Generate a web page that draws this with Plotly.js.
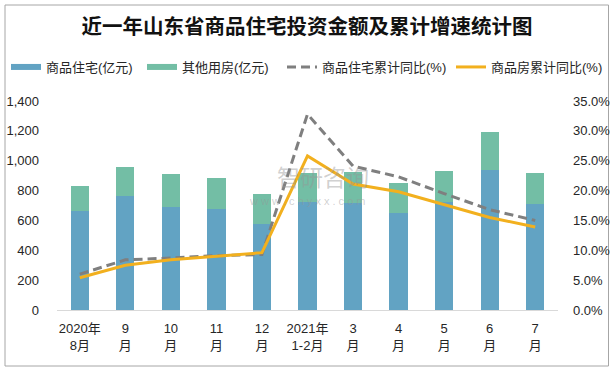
<!DOCTYPE html>
<html>
<head>
<meta charset="utf-8">
<script src="https://cdn.plot.ly/plotly-3.0.1.min.js"></script>
<style>
  html, body { margin: 0; padding: 0; background: #fff; }
  #chart { width: 614px; height: 371px; }
</style>
</head>
<body>
<div id="chart"></div>
<script>
// ---- data ----
const categories = ["2020年<br>8月", "9<br>月", "10<br>月", "11<br>月", "12<br>月", "2021年<br>1-2月", "3<br>月", "4<br>月", "5<br>月", "6<br>月", "7<br>月"];
const residentialInvest = [663, 764, 690, 676, 576, 723, 716, 650, 725, 938, 710];   // 商品住宅(亿元)
const otherInvest       = [167, 194, 221, 208, 201, 192, 209, 201, 206, 254, 208];   // 其他用房(亿元)
const residentialYoY    = [6.0, 8.4, 8.7, 9.1, 9.3, 32.8, 24.1, 22.3, 19.5, 16.8, 15.0]; // 商品住宅累计同比(%)
const allHousingYoY     = [5.4, 7.5, 8.4, 9.0, 9.6, 25.8, 21.1, 19.8, 17.6, 15.5, 13.9]; // 商品房累计同比(%)
const leftTicks  = [0, 200, 400, 600, 800, 1000, 1200, 1400];
const rightTicks = [0, 5, 10, 15, 20, 25, 30, 35];
const rightTickText = ["0.0%", "5.0%", "10.0%", "15.0%", "20.0%", "25.0%", "30.0%", "35.0%"];

const seriesNames = ["商品住宅(亿元)", "其他用房(亿元)", "商品住宅累计同比(%)", "商品房累计同比(%)"];
const colors = { blue: "#62A3C3", green: "#73BEA5", gray: "#7F7F7F", yellow: "#F2B01E" };

const tickFont = { family: "Liberation Sans, Arial, Noto Sans CJK SC, sans-serif", size: 13, color: "#262626" };
const cjkFont  = { family: "Liberation Sans, Noto Sans CJK SC, sans-serif", size: 13, color: "#262626" };

const traces = [
  { type: "bar", name: seriesNames[0], x: categories, y: residentialInvest,
    marker: { color: colors.blue }, width: 0.4, showlegend: false },
  { type: "bar", name: seriesNames[1], x: categories, y: otherInvest,
    marker: { color: colors.green }, width: 0.4, showlegend: false },
  { type: "scatter", mode: "lines", name: seriesNames[2], x: categories, y: residentialYoY,
    yaxis: "y2", line: { color: colors.gray, width: 3, dash: "9px,5px" }, showlegend: false },
  { type: "scatter", mode: "lines", name: seriesNames[3], x: categories, y: allHousingYoY,
    yaxis: "y2", line: { color: colors.yellow, width: 3 }, showlegend: false },
  // legend entries (line-style swatches as in the reference), one legend box each
  { type: "scatter", mode: "lines", name: seriesNames[0], x: [null], y: [null], legend: "legend",  line: { color: colors.blue, width: 6 } },
  { type: "scatter", mode: "lines", name: seriesNames[1], x: [null], y: [null], legend: "legend2", line: { color: colors.green, width: 6 } },
  { type: "scatter", mode: "lines", name: seriesNames[2], x: [null], y: [null], legend: "legend3", line: { color: colors.gray, width: 3, dash: "9px,5px" } },
  { type: "scatter", mode: "lines", name: seriesNames[3], x: [null], y: [null], legend: "legend4", line: { color: colors.yellow, width: 3 } }
];

function legendAt(px) {
  return {
    orientation: "h", xref: "container", yref: "container",
    x: px / 614, xanchor: "left", y: 1 - 52 / 371, yanchor: "top",
    font: cjkFont, bgcolor: "rgba(0,0,0,0)", borderwidth: 0
  };
}

const layout = {
  width: 614, height: 371,
  margin: { l: 57, r: 56, t: 101, b: 61, pad: 0 },
  paper_bgcolor: "#ffffff", plot_bgcolor: "#ffffff",
  barmode: "stack",
  title: {
    text: "近一年山东省商品住宅投资金额及累计增速统计图",
    font: { family: "Noto Sans CJK SC, sans-serif", size: 20.5, color: "#111111", weight: "bold" },
    x: 0.5, xanchor: "center", xref: "container",
    y: 1 - 27 / 371, yanchor: "middle", yref: "container"
  },
  legend: legendAt(6),
  legend2: legendAt(142),
  legend3: legendAt(282),
  legend4: legendAt(451),
  xaxis: {
    type: "category", tickfont: cjkFont, showgrid: false, zeroline: false,
    showline: true, linecolor: "#D9D9D9", linewidth: 1, ticks: "", ticklabelstandoff: 6,
    fixedrange: true
  },
  yaxis: {
    range: [0, 1400], tickvals: leftTicks, tickformat: ",d", tickfont: tickFont,
    showgrid: false, zeroline: false, showline: false, ticks: "", ticklabelstandoff: 17,
    fixedrange: true
  },
  yaxis2: {
    overlaying: "y", side: "right", range: [0, 35], tickvals: rightTicks, ticktext: rightTickText,
    tickfont: tickFont,
    showgrid: false, zeroline: false, showline: false, ticks: "", ticklabelstandoff: 14,
    fixedrange: true
  },
  shapes: [
    { type: "rect", xref: "paper", yref: "paper",
      x0: (5 - 57) / 501, x1: (608.5 - 57) / 501, y0: (310 - 366) / 209, y1: (310 - 5) / 209,
      line: { color: "#A6A6A6", width: 1 }, fillcolor: "rgba(0,0,0,0)", layer: "below" }
  ],
  annotations: [
    { xref: "paper", yref: "paper", x: (323 - 57) / 501, y: (310 - 176) / 209,
      text: "智研咨询", showarrow: false,
      font: { family: "Noto Sans CJK SC, sans-serif", size: 23, color: "rgba(150,150,150,0.45)" } },
    { xref: "paper", yref: "paper", x: (307 - 57) / 501, y: (310 - 201) / 209,
      text: "w w w . c h y x x . c o m", showarrow: false,
      font: { family: "Liberation Sans, sans-serif", size: 11, color: "rgba(150,150,150,0.45)" } }
  ],
  showlegend: true
};

Plotly.newPlot("chart", traces, layout, { displayModeBar: false, staticPlot: true });
</script>
</body>
</html>
